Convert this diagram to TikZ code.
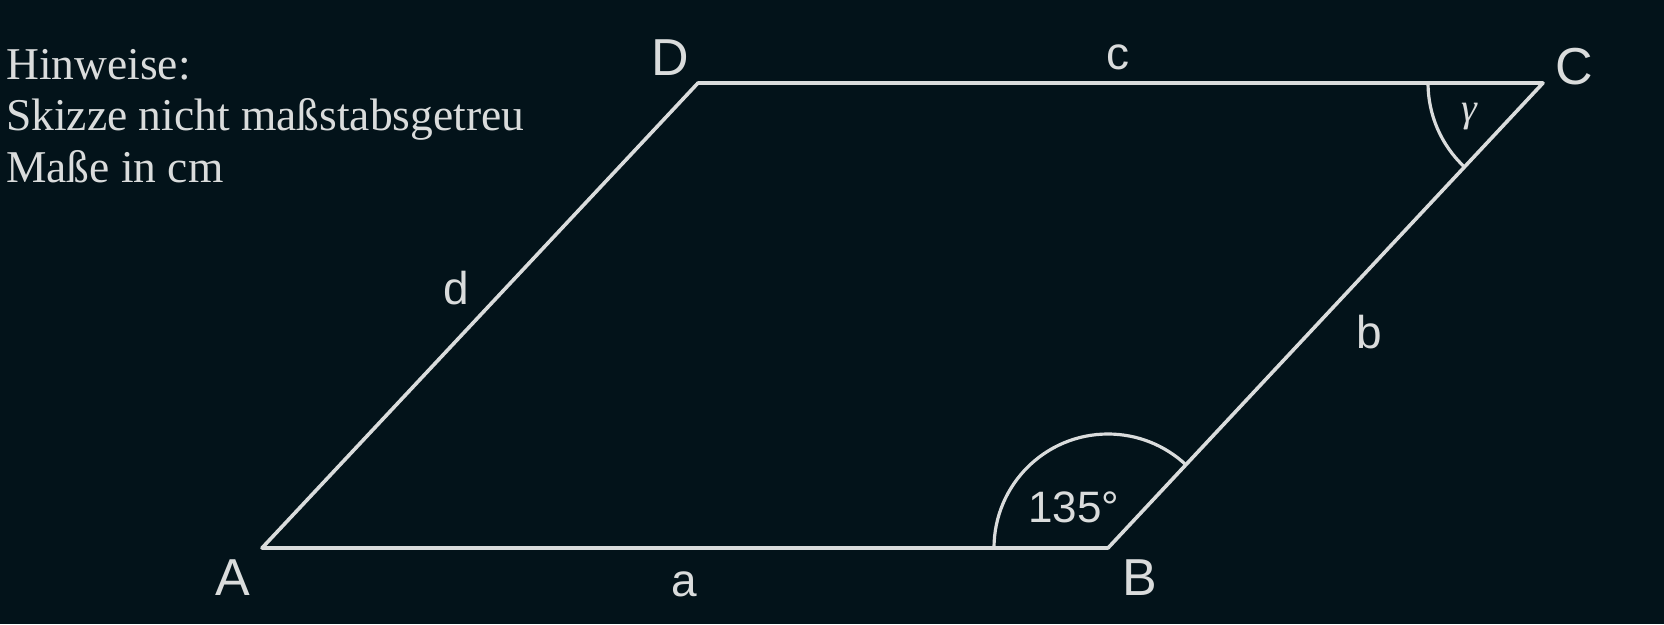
\documentclass[tikz,border=0pt]{standalone}
\usepackage{fontspec}
\setmainfont{Liberation Serif}
\newfontfamily\lblfont{Liberation Sans}
\definecolor{bgcol}{HTML}{03131A}
\definecolor{fgcol}{HTML}{DADCDC}
\begin{document}
\begin{tikzpicture}[x=1pt,y=-1pt,
  edge/.style={draw=fgcol,line width=3.6pt,line join=round},
  anglearc/.style={draw=fgcol,line width=3.2pt},
  vlabel/.style={text=fgcol,font=\lblfont\fontsize{52}{56}\selectfont,inner sep=0pt},
  slabel/.style={text=fgcol,font=\lblfont\fontsize{46}{50}\selectfont,inner sep=0pt},
  note/.style={text=fgcol,font=\fontsize{45.5}{51.5}\selectfont,align=left,inner sep=0pt,anchor=north west}]
\fill[bgcol] (0,0) rectangle (1664,624);
\useasboundingbox (0,0) rectangle (1664,624);
\coordinate (A) at (262,548);
\coordinate (B) at (1108,548);
\coordinate (C) at (1543,83);
\coordinate (D) at (698,83);
\draw[edge] (A) -- (B) -- (C) -- (D) -- cycle;
% angle arcs
\draw[anglearc] ([xshift=-114pt]B) arc[start angle=180,end angle=46.9,radius=114pt];
\draw[anglearc] ([xshift=-115pt]C) arc[start angle=180,end angle=226.9,radius=115pt];
% vertex labels
\node[vlabel] (lA) at (233,578) {A};
\node[vlabel] (lB) at (1140,578) {B};
\node[vlabel] (lC) at (1574,67) {C};
\node[vlabel] (lD) at (670,58) {D};
% side labels
\node[slabel] (la) at (684,584) {a};
\node[slabel] (lb) at (1369,332) {b};
\node[slabel] (lc) at (1118,57) {c};
\node[slabel] (ld) at (456,288) {d};
% angle labels
\node[text=fgcol,font=\lblfont\fontsize{44}{48}\selectfont,inner sep=0pt] (ang) at (1074,507) {135°};
\node[text=fgcol,font=\itshape\fontsize{40}{44}\selectfont,inner sep=0pt] (gam) at (1469,117) {γ};
% notes
\node[note] (notes) at (6,49) {Hinweise:\\Skizze nicht maßstabsgetreu\\Maße in cm};
\end{tikzpicture}
\end{document}
